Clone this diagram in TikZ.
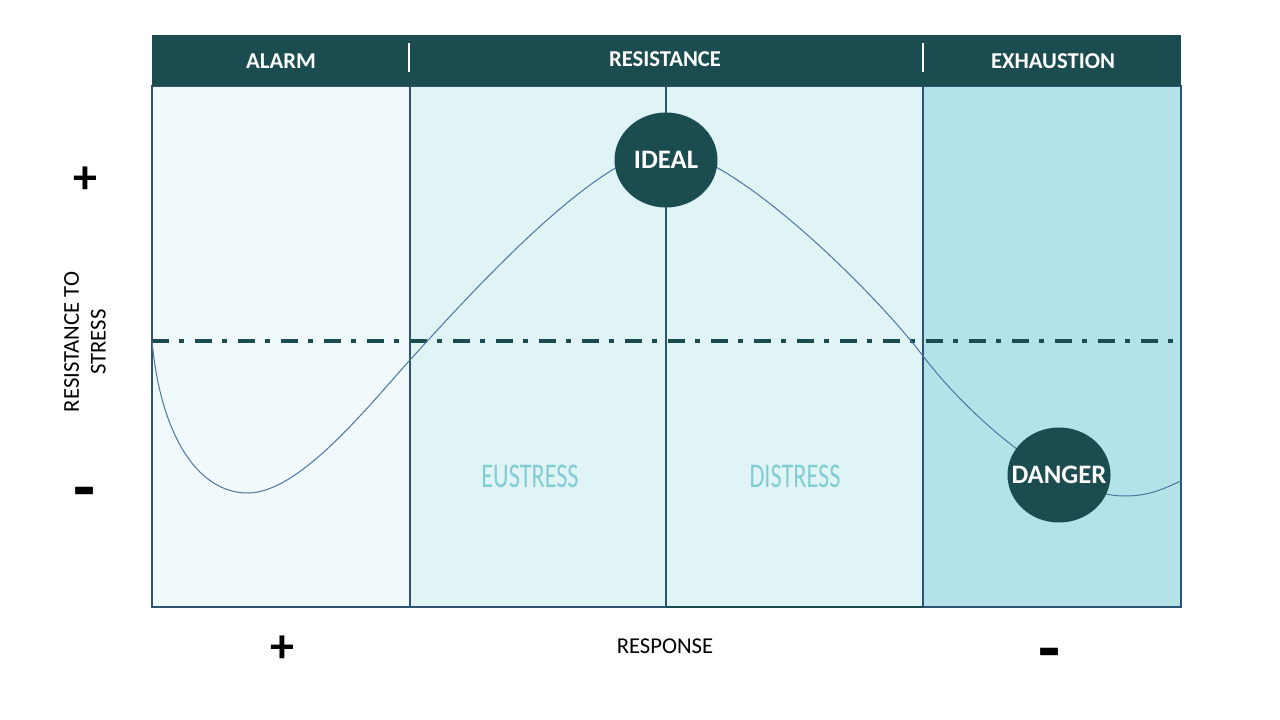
\documentclass[tikz,border=0pt]{standalone}
\usepackage{fontspec}
\setmainfont{Carlito}
\newfontfamily\narrowfont[FakeStretch=0.7]{Carlito}
\usetikzlibrary{shapes.geometric}
\newlength{\du}
\setlength{\du}{0.75pt}
\definecolor{headcolor}{RGB}{27,76,80}
\definecolor{edgecolor}{RGB}{47,84,115}
\definecolor{alarmfill}{RGB}{240,249,251}
\definecolor{resistfill}{RGB}{225,244,245}
\definecolor{exhaustfill}{RGB}{179,227,232}
\definecolor{curvecolor}{RGB}{74,118,160}
\definecolor{stresscolor}{RGB}{128,205,212}
\tikzset{
  phasebox/.style={fill=#1, draw=edgecolor, line width=2\du},
  headlabel/.style={text=white, font=\fontsize{17}{20}\selectfont\bfseries},
  marker/.style={ellipse, fill=headcolor, text=white, inner sep=0pt,
    minimum width=103\du, minimum height=95\du,
    font=\fontsize{20}{24}\selectfont\bfseries},
  axislabel/.style={font=\fontsize{17}{20}\selectfont, align=center},
  signlabel/.style={font=\fontsize{36}{40}\selectfont\bfseries},
  minuslabel/.style={font=\fontsize{54}{60}\selectfont\bfseries},
  stresslabel/.style={text=stresscolor, font=\narrowfont\fontsize{26}{30}\selectfont},
  levelline/.style={draw=headcolor, line width=4\du,
    dash pattern=on 17\du off 10\du on 5\du off 11\du},
  stresscurve/.style={draw=curvecolor, line width=1\du},
}

\begin{document}
\begin{tikzpicture}
\pgftransformxscale{1.000000}
\pgftransformyscale{-1.000000}
\useasboundingbox (0\du,0\du) rectangle (1280\du,720\du);
% phases
\draw[phasebox=alarmfill] (152\du,86\du) rectangle (410\du,607\du);
\draw[phasebox=resistfill] (410\du,86\du) rectangle (666\du,607\du);
\draw[phasebox=resistfill] (666\du,86\du) rectangle (923\du,607\du);
\draw[phasebox=exhaustfill] (923\du,86\du) rectangle (1181\du,607\du);
\draw[headcolor, line width=2\du] (666\du,607\du)--(923\du,607\du);
% header
\fill[headcolor] (152\du,35\du) rectangle (1181\du,86\du);
\draw[white, line width=2\du] (409\du,43\du)--(409\du,72\du);
\draw[white, line width=2\du] (923\du,43\du)--(923\du,72\du);
\node[headlabel] (alarm) at (281\du,61\du) {ALARM};
\node[headlabel] (resistance) at (665\du,59\du) {RESISTANCE};
\node[headlabel] (exhaustion) at (1053\du,61\du) {EXHAUSTION};
% level
\coordinate (l0) at (152\du,341\du);
\coordinate (l1) at (1181\du,341\du);
\draw[levelline] (l0)--(l1);
% curve
\coordinate (c0) at (152\du,341\du);
\coordinate (c1) at (248\du,493\du);
\coordinate (c2) at (410\du,360\du);
\coordinate (c3) at (666\du,150\du);
\coordinate (c4) at (923\du,356\du);
\coordinate (c5) at (1125\du,496\du);
\coordinate (c6) at (1181\du,481\du);
\draw[stresscurve] (c0)
  .. controls (160\du,430\du) and (195\du,493\du) .. (c1)
  .. controls (300\du,493\du) and (370\du,404\du) .. (c2)
  .. controls (470\du,294\du) and (600\du,150\du) .. (c3)
  .. controls (730\du,150\du) and (873\du,290\du) .. (c4)
  .. controls (963\du,409\du) and (1055\du,496\du) .. (c5)
  .. controls (1150\du,496\du) and (1165\du,488\du) .. (c6);
% markers
\node[marker] (ideal) at (666\du,160\du) {IDEAL};
\node[marker, inner xsep=-12\du] (danger) at (1059\du,475\du) {DANGER};
\node[stresslabel] (eustress) at (530\du,476\du) {EUSTRESS};
\node[stresslabel] (distress) at (795\du,476\du) {DISTRESS};
% axes
\node[axislabel, rotate=90] (yaxis) at (85\du,342\du) {RESISTANCE TO\\STRESS};
\node[axislabel] (xaxis) at (665\du,646\du) {RESPONSE};
\node[signlabel] (yplus) at (85\du,180\du) {+};
\node[minuslabel] (yminus) at (85\du,499\du) {-};
\node[signlabel] (xplus) at (282\du,649\du) {+};
\node[minuslabel] (xminus) at (1050\du,660\du) {-};
\end{tikzpicture}
\end{document}
